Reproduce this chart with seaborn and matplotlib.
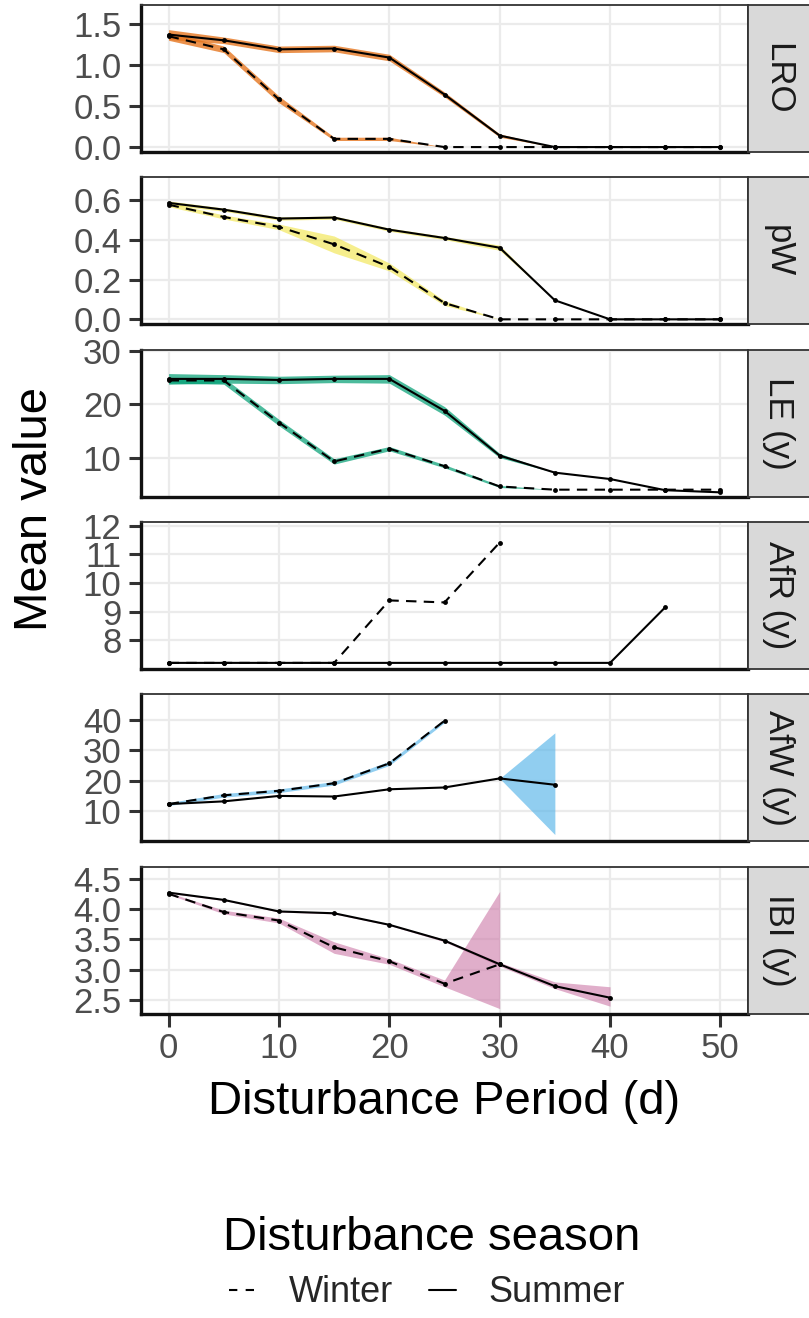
import numpy as np
import pandas as pd
import matplotlib
matplotlib.use("Agg")
import matplotlib.pyplot as plt
import seaborn as sns
from matplotlib.lines import Line2D

sns.set_theme(style="white")
plt.rcParams["font.family"] = ["Liberation Sans", "DejaVu Sans"]

nan = np.nan

# ---------------- data ----------------
x_days = [0, 5, 10, 15, 20, 25, 30, 35, 40, 45, 50]
metrics = ["LRO", "pW", "LE (y)", "AfR (y)", "AfW (y)", "IBI (y)"]
seasons = ["Winter", "Summer"]

lro_summer = [1.37, 1.30, 1.19, 1.20, 1.09, 0.64, 0.14, 0.0, 0.0, 0.0, 0.0]
lro_summer_lo = [1.31, 1.26, 1.15, 1.16, 1.05, 0.61, 0.12, 0.0, 0.0, 0.0, 0.0]
lro_summer_hi = [1.43, 1.34, 1.23, 1.24, 1.13, 0.67, 0.16, 0.0, 0.0, 0.0, 0.0]
lro_winter = [1.35, 1.19, 0.58, 0.10, 0.10, 0.0, 0.0, 0.0, 0.0, 0.0, 0.0]
lro_winter_lo = [1.30, 1.15, 0.54, 0.08, 0.08, 0.0, 0.0, 0.0, 0.0, 0.0, 0.0]
lro_winter_hi = [1.40, 1.23, 0.62, 0.12, 0.12, 0.0, 0.0, 0.0, 0.0, 0.0, 0.0]

pw_summer = [0.587, 0.553, 0.508, 0.513, 0.452, 0.410, 0.361, 0.096, 0.0, 0.0, 0.0]
pw_summer_lo = [0.577, 0.545, 0.500, 0.505, 0.444, 0.402, 0.348, 0.096, 0.0, 0.0, 0.0]
pw_summer_hi = [0.597, 0.561, 0.516, 0.521, 0.460, 0.418, 0.374, 0.096, 0.0, 0.0, 0.0]
pw_winter = [0.578, 0.516, 0.466, 0.378, 0.264, 0.082, 0.0, 0.0, 0.0, 0.0, 0.0]
pw_winter_lo = [0.568, 0.506, 0.452, 0.335, 0.244, 0.070, 0.0, 0.0, 0.0, 0.0, 0.0]
pw_winter_hi = [0.588, 0.526, 0.480, 0.420, 0.284, 0.094, 0.0, 0.0, 0.0, 0.0, 0.0]

le_summer = [24.8, 24.8, 24.6, 24.8, 24.8, 18.8, 10.4, 7.2, 6.0, 3.9, 3.5]
le_summer_lo = [23.8, 24.0, 23.9, 24.1, 24.0, 18.0, 10.0, 7.2, 6.0, 3.9, 3.5]
le_summer_hi = [25.8, 25.6, 25.3, 25.5, 25.6, 19.6, 10.8, 7.2, 6.0, 3.9, 3.5]
le_winter = [24.5, 24.5, 16.6, 9.3, 11.7, 8.4, 4.6, 4.0, 4.0, 4.0, 4.0]
le_winter_lo = [24.0, 23.8, 16.0, 8.8, 11.3, 8.1, 4.4, 4.0, 4.0, 4.0, 4.0]
le_winter_hi = [25.0, 25.0, 17.2, 9.8, 12.1, 8.7, 4.8, 4.0, 4.0, 4.0, 4.0]

afr_summer = [7.21, 7.21, 7.21, 7.21, 7.21, 7.21, 7.21, 7.21, 7.21, 9.15, nan]
afr_winter = [7.21, 7.21, 7.21, 7.21, 9.39, 9.32, 11.41, nan, nan, nan, nan]

afw_summer = [12.2, 13.1, 14.9, 14.7, 17.1, 17.7, 20.7, 18.6, nan, nan, nan]
afw_summer_lo = [12.2, 13.1, 14.9, 14.7, 17.1, 17.7, 20.7, 2.1, nan, nan, nan]
afw_summer_hi = [12.2, 13.1, 14.9, 14.7, 17.1, 17.7, 20.7, 35.8, nan, nan, nan]
afw_winter = [12.2, 15.1, 16.6, 19.1, 25.7, 39.8, nan, nan, nan, nan, nan]
afw_winter_lo = [11.7, 14.5, 16.0, 18.5, 25.0, 39.2, nan, nan, nan, nan, nan]
afw_winter_hi = [12.7, 15.7, 17.2, 19.7, 26.4, 40.4, nan, nan, nan, nan, nan]

ibi_summer = [4.27, 4.15, 3.96, 3.93, 3.74, 3.48, 3.09, 2.73, 2.54, nan, nan]
ibi_summer_lo = [4.26, 4.14, 3.95, 3.92, 3.73, 3.46, 3.06, 2.69, 2.40, nan, nan]
ibi_summer_hi = [4.28, 4.16, 3.97, 3.94, 3.75, 3.50, 3.12, 2.80, 2.72, nan, nan]
ibi_winter = [4.25, 3.95, 3.81, 3.37, 3.14, 2.77, 3.09, nan, nan, nan, nan]
ibi_winter_lo = [4.24, 3.92, 3.77, 3.27, 3.09, 2.72, 2.36, nan, nan, nan, nan]
ibi_winter_hi = [4.27, 3.98, 3.85, 3.46, 3.18, 2.83, 4.29, nan, nan, nan, nan]

none = [nan] * 11

series = {
    "LRO": {"Summer": (lro_summer, lro_summer_lo, lro_summer_hi),
            "Winter": (lro_winter, lro_winter_lo, lro_winter_hi)},
    "pW": {"Summer": (pw_summer, pw_summer_lo, pw_summer_hi),
           "Winter": (pw_winter, pw_winter_lo, pw_winter_hi)},
    "LE (y)": {"Summer": (le_summer, le_summer_lo, le_summer_hi),
               "Winter": (le_winter, le_winter_lo, le_winter_hi)},
    "AfR (y)": {"Summer": (afr_summer, none, none),
                "Winter": (afr_winter, none, none)},
    "AfW (y)": {"Summer": (afw_summer, afw_summer_lo, afw_summer_hi),
                "Winter": (afw_winter, afw_winter_lo, afw_winter_hi)},
    "IBI (y)": {"Summer": (ibi_summer, ibi_summer_lo, ibi_summer_hi),
                "Winter": (ibi_winter, ibi_winter_lo, ibi_winter_hi)},
}

ribbon_colors = ["#E5761F", "#F0E442", "#009E73", "#E69F00", "#56B4E9", "#CC79A7"]
ribbon_alpha = [0.8, 0.6, 0.7, 0.6, 0.65, 0.6]

y_ticks = [[0.0, 0.5, 1.0, 1.5], [0.0, 0.2, 0.4, 0.6], [10, 20, 30],
           [8, 9, 10, 11, 12], [10, 20, 30, 40], [2.5, 3.0, 3.5, 4.0, 4.5]]
y_ticklabels = [["0.0", "0.5", "1.0", "1.5"], ["0.0", "0.2", "0.4", "0.6"],
                ["10", "20", "30"], ["8", "9", "10", "11", "12"],
                ["10", "20", "30", "40"], ["2.5", "3.0", "3.5", "4.0", "4.5"]]
y_lims = [(-0.06, 1.73), (-0.025, 0.716), (2.7, 30.3), (7.0, 12.13),
          (-0.1, 48.6), (2.28, 4.70)]
x_ticks = [0, 10, 20, 30, 40, 50]

rows = []
for m in metrics:
    for s in seasons:
        mean, lo, hi = series[m][s]
        for xv, v, l, h in zip(x_days, mean, lo, hi):
            rows.append({"metric": m, "season": s, "x": xv, "value": v, "lo": l, "hi": h})
df = pd.DataFrame(rows)

# ---------------- layout ----------------
W, H = 809, 1318
fig = plt.figure(figsize=(W / 100, H / 100), dpi=100)

left_px, right_px = 141, 748
panel_h = 147
tops = [5 + i * 172.3 for i in range(6)]

for i, m in enumerate(metrics):
    top = tops[i]
    ax = fig.add_axes([left_px / W, 1 - (top + panel_h) / H,
                       (right_px - left_px) / W, panel_h / H])
    sub = df[df.metric == m]
    for s in seasons:
        ss = sub[sub.season == s]
        ax.fill_between(ss["x"], ss["lo"], ss["hi"], color=ribbon_colors[i],
                        alpha=ribbon_alpha[i], lw=0, zorder=1)
    sns.lineplot(data=sub.dropna(subset=["value"]), x="x", y="value",
                 style="season", style_order=seasons,
                 dashes={"Winter": (5, 3.5), "Summer": ""},
                 markers={"Winter": "o", "Summer": "o"},
                 markersize=3.5, markeredgewidth=0, color="black", lw=1.5,
                 estimator=None, sort=False, legend=False, ax=ax, zorder=3)
    ax.set_xlim(-2.5, 52.5)
    ax.set_ylim(*y_lims[i])
    ax.set_xticks(x_ticks)
    ax.set_yticks(y_ticks[i])
    ax.set_yticklabels(y_ticklabels[i])
    ax.set_xlabel("")
    ax.set_ylabel("")
    ax.grid(True, color="#EBEBEB", lw=1.6)
    ax.set_axisbelow(True)
    for sp in ["top", "right"]:
        ax.spines[sp].set_color("#333333")
        ax.spines[sp].set_linewidth(1.3)
    for sp in ["left", "bottom"]:
        ax.spines[sp].set_color("#111111")
        ax.spines[sp].set_linewidth(2.4)
    ax.tick_params(axis="y", left=True, length=9, width=2.2, color="#333333",
                   labelsize=25, labelcolor="#4D4D4D", pad=5)
    if i == len(metrics) - 1:
        ax.tick_params(axis="x", bottom=True, length=9, width=2.2, color="#333333",
                       labelsize=25, labelcolor="#4D4D4D", pad=4)
    else:
        ax.tick_params(axis="x", bottom=False, labelbottom=False)

    sax = fig.add_axes([right_px / W, 1 - (top + panel_h) / H, 64 / W, panel_h / H])
    sax.set_facecolor("#D9D9D9")
    sax.set_xticks([])
    sax.set_yticks([])
    for sp in sax.spines.values():
        sp.set_color("#333333")
        sp.set_linewidth(1.3)
    sax.text(30 / 64, 0.5, m, rotation=-90, ha="center", va="center",
             fontsize=25, color="#1A1A1A", transform=sax.transAxes)

fig.text(444.5 / W, 1 - 1102 / H, "Disturbance Period (d)", ha="center", va="center",
         fontsize=34, color="black")
fig.text(35 / W, 1 - 509 / H, "Mean value", rotation=90, ha="center", va="center",
         fontsize=34, color="black")
fig.text(432 / W, 1 - 1238 / H, "Disturbance season", ha="center", va="center",
         fontsize=34, color="black")

handles = [Line2D([], [], color="black", lw=1.5, ls=(0, (4, 4))),
           Line2D([], [], color="black", lw=1.5)]
fig.legend(handles=handles, labels=["Winter", "Summer"], loc="center",
           bbox_to_anchor=(427 / W, 1 - 1293 / H), ncol=2, frameon=False,
           fontsize=26, handlelength=0.75, handletextpad=0.9, columnspacing=1.0)

fig.savefig("out.png", dpi=100)
